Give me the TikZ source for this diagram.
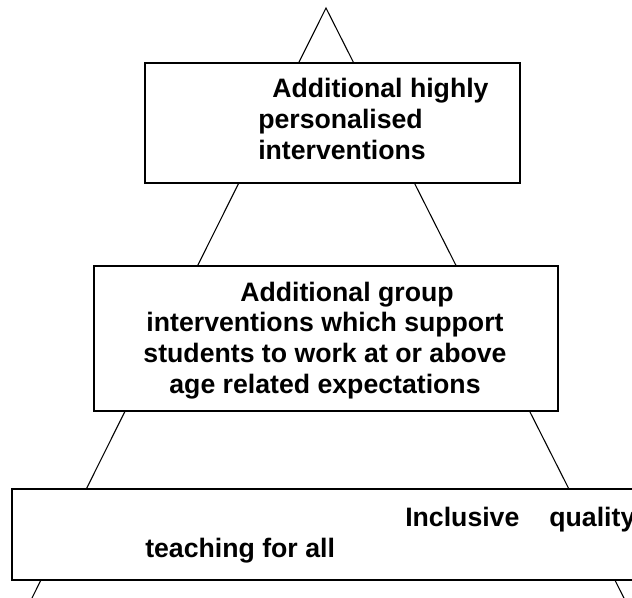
\documentclass[tikz,border=0pt]{standalone}
\usepackage{fontspec}
\setmainfont{Liberation Sans}
\usetikzlibrary{positioning}
\newdimen\pxunit \pxunit=0.75pt

\begin{document}
\begin{tikzpicture}[
  x=0.75pt, y=-0.75pt,
  tier/.style={draw, fill=white, line width=1.1pt, inner sep=0pt},
  tiertext/.style={font=\fontsize{20}{23}\selectfont\bfseries, inner sep=0pt},
  edge/.style={line width=0.8pt},
]
\useasboundingbox (0,0) rectangle (632,597);

% Pyramid outline
\coordinate (apex)  at (326,8);
\coordinate (baseL) at (26,610);
\coordinate (baseR) at (630,610);
\draw[edge] (baseL) -- (apex) -- (baseR);

% Tiers
\node[tier, minimum width=375\pxunit, minimum height=120\pxunit] (top) at (332.5,123) {};
\node[tier, minimum width=464\pxunit, minimum height=145\pxunit] (mid) at (326,338.5) {};
\node[tier, minimum width=648\pxunit, minimum height=91\pxunit]  (bot) at (336,534.5) {};

% Tier texts (anchored on the last line)
\node[tiertext, align=left, anchor=base west] (toptext) at (258,159)
  {\hspace*{14\pxunit}Additional highly\\personalised\\interventions};
\node[tiertext, align=center, anchor=base] (midtext) at (325,393)
  {\hspace*{44\pxunit}Additional group\\interventions which support\\students to work at or above\\age related expectations};
\node[tiertext, align=left, anchor=base west] (bottext) at (145,557)
  {\hspace*{260\pxunit}Inclusive\hspace{30\pxunit}quality\\teaching for all};

\end{tikzpicture}
\end{document}
